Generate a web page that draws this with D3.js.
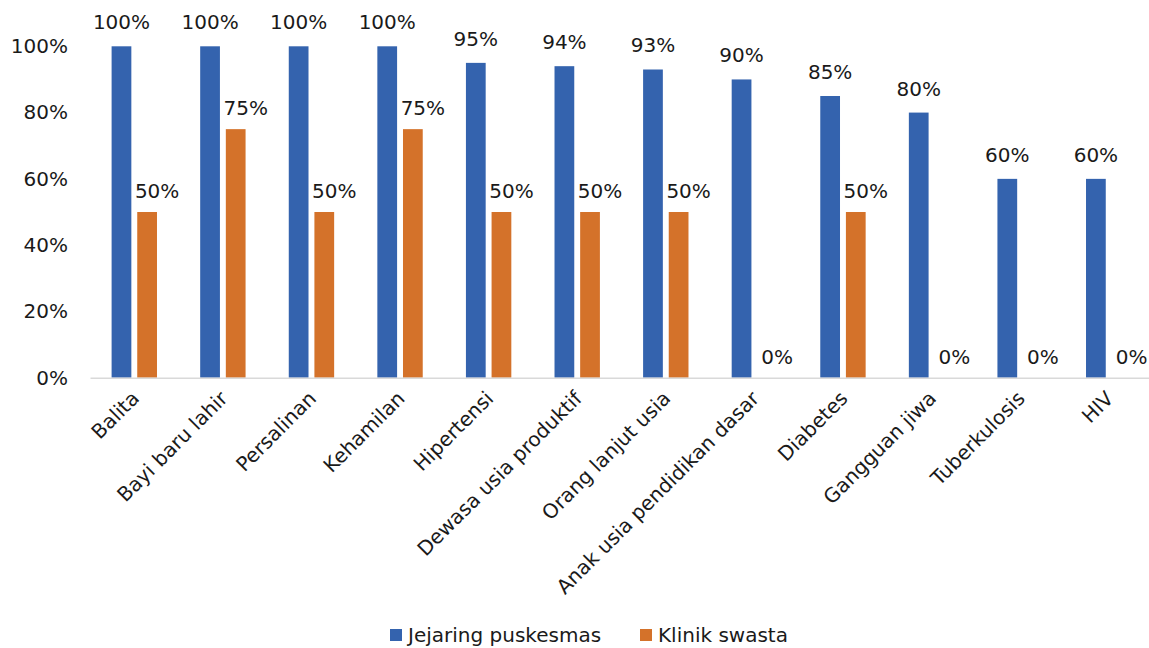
<!DOCTYPE html>
<html>
<head>
<meta charset="utf-8">
<script src="https://cdn.jsdelivr.net/npm/d3@7/dist/d3.min.js"></script>
<style>
  html, body { margin: 0; padding: 0; background: #ffffff; }
  svg { display: block; }
  text { font-family: "DejaVu Sans", sans-serif; fill: #1a1a1a; }
</style>
</head>
<body>
<svg id="chart" width="1149" height="648"></svg>
<script>
// Service categories along the x axis
const categories = [
  "Balita", "Bayi baru lahir", "Persalinan", "Kehamilan", "Hipertensi",
  "Dewasa usia produktif", "Orang lanjut usia", "Anak usia pendidikan dasar",
  "Diabetes", "Gangguan jiwa", "Tuberkulosis", "HIV"
];
// Share of each service offered (percent)
const jejaringPuskesmas = [100, 100, 100, 100, 95, 94, 93, 90, 85, 80, 60, 60];
const klinikSwasta      = [50, 75, 50, 75, 50, 50, 50, 0, 50, 0, 0, 0];
const seriesNames = ["Jejaring puskesmas", "Klinik swasta"];
const seriesColors = ["#3463AE", "#D4722A"];
const yTicks = [0, 20, 40, 60, 80, 100];

const series = [jejaringPuskesmas, klinikSwasta];
const FONT = "DejaVu Sans, sans-serif";
// value-label placement per series: horizontal nudge and gap above the bar
const labelDx = [0, 10];
const labelGap = [17, 14];

const svg = d3.select("#chart");
const plotLeft = 90, plotRight = 1153, plotTop = 46.3, plotBottom = 377.7;

const x0 = d3.scaleBand().domain(categories).range([plotLeft, plotRight]).paddingInner(0).paddingOuter(0);
const x1 = d3.scaleBand().domain(seriesNames).range([21.6, x0.bandwidth() - 21.6]).paddingInner(0.23);
const y = d3.scaleLinear().domain([0, 100]).range([plotBottom, plotTop]);
const fmt = v => d3.format(".0f")(v) + "%";

// Y axis labels (no line, no ticks)
const yAxis = d3.axisLeft(y).tickValues(yTicks).tickFormat(fmt).tickSize(0).tickPadding(0);
const gy = svg.append("g").attr("transform", "translate(68,0)").call(yAxis);
gy.select(".domain").remove();
gy.selectAll("text").attr("font-size", 20).attr("fill", "#1a1a1a").attr("font-family", FONT);

// Bars with value labels
categories.forEach((cat, i) => {
  const g = svg.append("g").attr("transform", `translate(${x0(cat)},0)`);
  series.forEach((vals, s) => {
    const v = vals[i];
    g.append("rect")
      .attr("x", x1(seriesNames[s]))
      .attr("y", y(v))
      .attr("width", x1.bandwidth())
      .attr("height", y(0) - y(v))
      .attr("fill", seriesColors[s]);
    g.append("text")
      .attr("x", x1(seriesNames[s]) + x1.bandwidth() / 2 + labelDx[s])
      .attr("y", y(v) - labelGap[s])
      .attr("text-anchor", "middle")
      .attr("font-size", 20)
      .text(fmt(v));
  });
});

// X axis baseline and rotated category labels
const xAxis = d3.axisBottom(x0).tickSize(0).tickPadding(0);
const gx = svg.append("g").attr("transform", `translate(0,${plotBottom})`).call(xAxis);
gx.select(".domain").attr("stroke", "#d9d9d9").attr("stroke-width", 1.5);
gx.selectAll(".tick text")
  .attr("font-size", 20)
  .attr("fill", "#1a1a1a")
  .attr("font-family", FONT)
  .attr("text-anchor", "end")
  .attr("dy", null)
  .attr("y", 0)
  .attr("transform", "translate(6,22) rotate(-45)");

// Legend
const legend = svg.append("g");
const legendItems = [{ x: 390, name: seriesNames[0], color: seriesColors[0] },
                     { x: 640, name: seriesNames[1], color: seriesColors[1] }];
legendItems.forEach(d => {
  legend.append("rect").attr("x", d.x).attr("y", 629).attr("width", 12).attr("height", 12).attr("fill", d.color);
  legend.append("text").attr("x", d.x + 18).attr("y", 642).attr("font-size", 20).text(d.name);
});
</script>
</body>
</html>
